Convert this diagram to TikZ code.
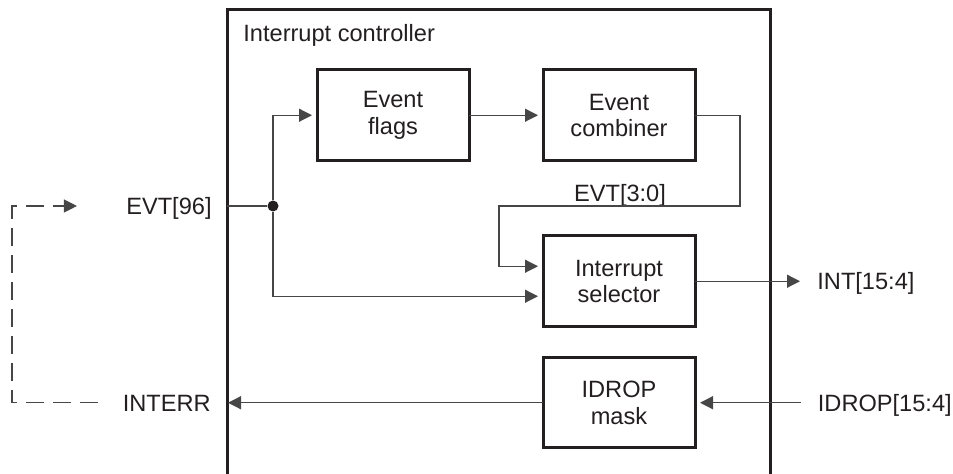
\documentclass[tikz,border=0pt]{standalone}
\usepackage{fontspec}
\setmainfont{Liberation Sans}
\usepackage{xcolor}
\usepackage{tikz}
\usetikzlibrary{positioning, arrows.meta}
\definecolor{ink}{RGB}{35,31,32}
\definecolor{wirecol}{RGB}{70,70,70}
\newcommand{\diagfont}{\fontsize{11.8}{13.2}\selectfont}
\tikzset{
  block/.style={
    draw=ink, line width=1.5pt, minimum width=76pt, minimum height=45.25pt,
    inner sep=2pt, outer sep=0pt, align=center, font=\diagfont, text=ink
  },
  frame/.style={draw=ink, line width=1.5pt, minimum width=271.25pt, minimum height=245pt, inner sep=0pt},
  signal/.style={font=\diagfont, text=ink, inner ysep=0pt, inner xsep=6pt, text height=8.4pt, text depth=0pt},
  junction/.style={circle, fill=ink, inner sep=0pt, minimum size=5.5pt},
  wire/.style={draw=wirecol, line width=0.6pt},
  feed/.style={wire, -{Triangle[length=6.5pt, width=6.5pt]}, shorten >=2.5pt},
  loopback/.style={wire, dash pattern=on 9pt off 4.5pt},
}
\begin{document}
\begin{tikzpicture}[x=0.5pt, y=-0.5pt, node distance=37pt]
  \useasboundingbox (0,0) rectangle (953,474);
  \clip (0,0) rectangle (953,474);

  \node[frame] (ctrl) at (498.75,255) {};
  \node[signal, anchor=base west, inner sep=0pt] (ctrllabel) at (243,42) {Interrupt controller};

  \node[block] (flags) at (393,115.25) {Event\\flags};
  \node[block, right=of flags] (combiner) {Event\\combiner};
  \node[block, below=37.75pt of combiner] (selector) {Interrupt\\selector};
  \node[block, below=15.5pt of selector] (mask) {IDROP\\mask};

  \node[signal, anchor=east, inner xsep=7.5pt] (evt) at (227,206) {EVT[96]};
  \node[junction] (dot) at (273,206) {};
  \node[signal, anchor=base] (evtsub) at (620,202) {EVT[3:0]};
  \node[signal, right=55pt of selector] (int) {INT[15:4]};
  \node[signal, right=52.75pt of mask, inner xsep=8.5pt] (idrop) {IDROP[15:4]};
  \node[signal, left=160pt of mask] (interr) {INTERR};

  \coordinate (bendR) at (740,206);
  \coordinate (bendL) at (499,206);
  \coordinate (loopx) at (12,300);

  \draw[wire] (evt.east) -- (dot);
  \draw[feed] (dot) |- (flags.west);
  \draw[feed] (dot) |- ([yshift=-7.5pt]selector.west);
  \draw[feed] (combiner.east) -| (bendR) -- (bendL) |- ([yshift=7.5pt]selector.west);
  \draw[feed, loopback] ([xshift=-6pt]interr.west) -- (interr.west -| loopx)
        -- (evt.west -| loopx) -- ([xshift=-14.5pt]evt.west);

  \path (flags) edge[feed] (combiner)
        (selector) edge[feed] (int)
        (idrop) edge[feed] (mask)
        (mask) edge[feed] (interr);
\end{tikzpicture}
\end{document}
